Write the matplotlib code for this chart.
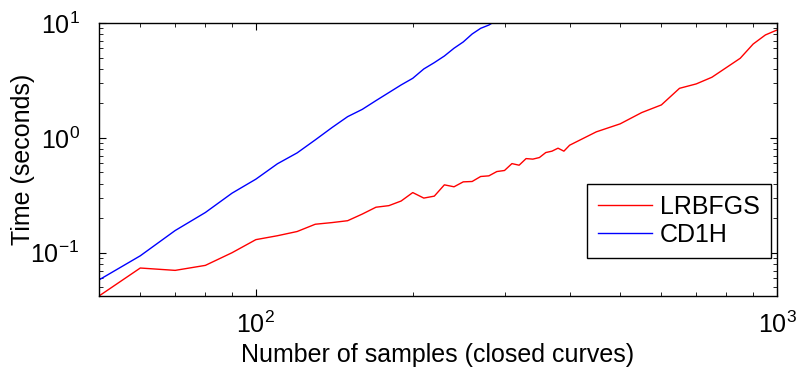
import numpy as np
import matplotlib
matplotlib.use('Agg')
import matplotlib.pyplot as plt

plt.rcParams.update({
    'font.family': ['Liberation Sans', 'DejaVu Sans'],
    'mathtext.fontset': 'custom',
    'mathtext.rm': 'Liberation Sans',
    'mathtext.it': 'Liberation Sans:italic',
    'font.size': 18,
    'axes.linewidth': 1.0,
})

# LRBFGS timings (red)
n_lrbfgs = [50, 60, 70, 80, 90, 100, 110, 120, 130, 140, 150, 160, 170, 180, 190,
            200, 210, 220, 230, 240, 250, 260, 270, 280, 290, 300, 310, 320, 330,
            340, 350, 360, 370, 380, 390, 400, 450, 500, 550, 600, 650, 700, 750,
            800, 850, 900, 950, 1000]
t_lrbfgs = [0.042, 0.0736, 0.0702, 0.0776, 0.100, 0.130, 0.1406, 0.153, 0.177, 0.183,
            0.190, 0.217, 0.249, 0.257, 0.282, 0.334, 0.299, 0.311, 0.390, 0.375,
            0.414, 0.417, 0.461, 0.467, 0.509, 0.520, 0.597, 0.578, 0.660, 0.653,
            0.674, 0.745, 0.766, 0.813, 0.766, 0.863, 1.128, 1.324, 1.66, 1.936,
            2.70, 2.95, 3.37, 4.1, 4.93, 6.56, 7.87, 8.69]

# CD1H timings (blue)
n_cd1h = [50, 60, 70, 80, 90, 100, 110, 120, 130, 140, 150, 160, 170, 180, 190,
          200, 210, 220, 230, 240, 250, 260, 270, 280, 290]
t_cd1h = [0.058, 0.094, 0.156, 0.224, 0.330, 0.437, 0.595, 0.74, 0.96, 1.23, 1.53,
          1.77, 2.11, 2.48, 2.89, 3.30, 3.98, 4.52, 5.16, 6.03, 6.84, 8.02, 8.99,
          9.6, 10.6]

fig = plt.figure(figsize=(7.97, 3.69), dpi=100)
ax = fig.add_axes([99 / 797, 1 - 296 / 369, 678 / 797, 273 / 369])

ax.loglog(n_lrbfgs, t_lrbfgs, color='#ff0000', linewidth=1.0, label='LRBFGS')
ax.loglog(n_cd1h, t_cd1h, color='#0000ff', linewidth=1.0, label='CD1H')

ax.set_xlim(50, 1000)
ax.set_ylim(0.042, 10)

ax.tick_params(which='both', direction='in', top=True, right=True)
ax.tick_params(which='major', length=5, width=0.8)
ax.tick_params(which='minor', length=3, width=0.6)
ax.tick_params(axis='x', which='major', pad=11)
ax.tick_params(axis='y', which='major', pad=14)

ax.set_xlabel('Number of samples (closed curves)', labelpad=4)
ax.set_ylabel('Time (seconds)', labelpad=-3)

leg = ax.legend(loc='lower right', bbox_to_anchor=(0.991, 0.139), borderaxespad=0,
                fancybox=False, framealpha=1, edgecolor='black',
                handlelength=2.15, handletextpad=0.32, borderpad=0.45,
                labelspacing=0.15)
leg.get_frame().set_linewidth(1.0)

fig.savefig('out.png', dpi=100)
